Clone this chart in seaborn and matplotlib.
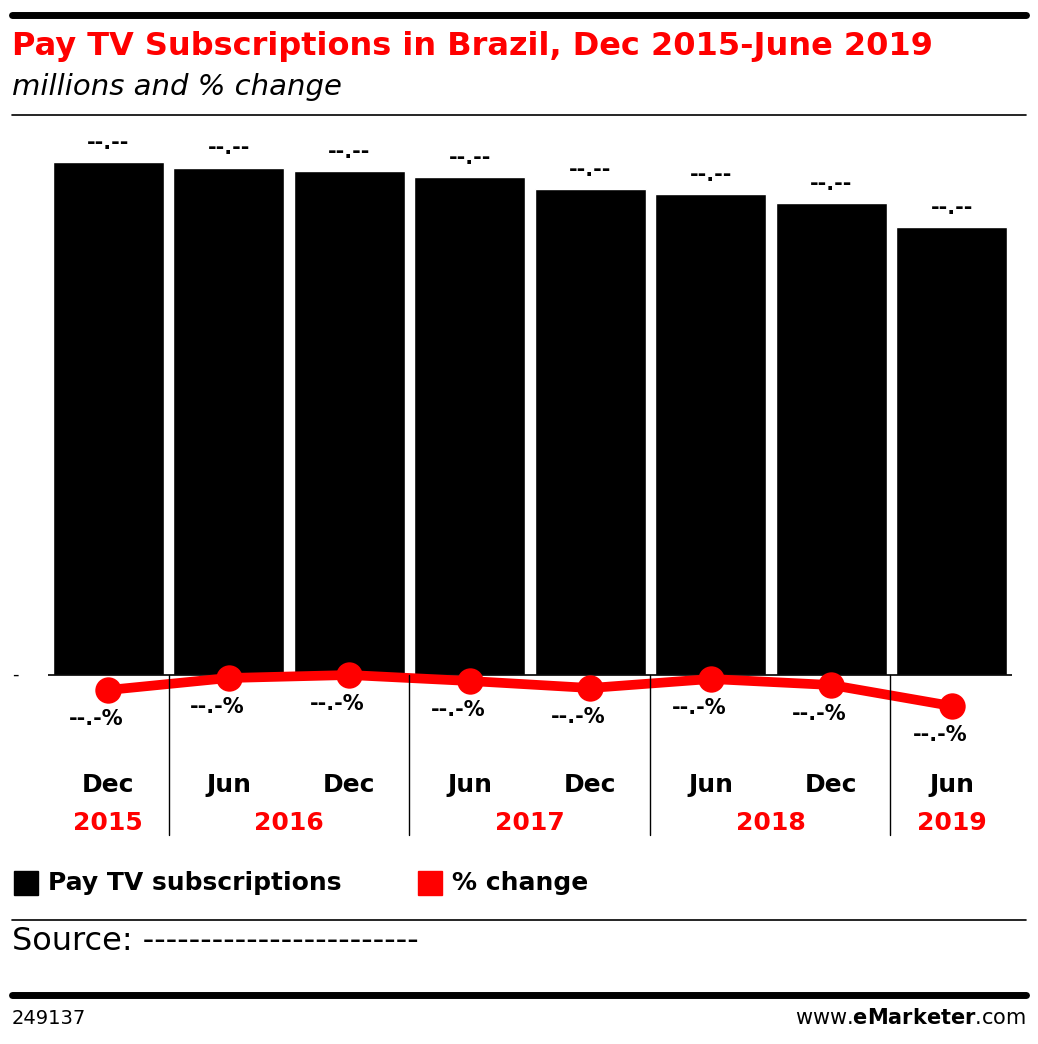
import matplotlib
matplotlib.use("Agg")
import matplotlib.pyplot as plt
import seaborn as sns
import pandas as pd
from matplotlib.lines import Line2D
from matplotlib.patches import Rectangle

periods = ["Dec 2015", "Jun 2016", "Dec 2016", "Jun 2017", "Dec 2017", "Jun 2018", "Dec 2018", "Jun 2019"]
months = ["Dec", "Jun", "Dec", "Jun", "Dec", "Jun", "Dec", "Jun"]
subscriptions = [19.10, 18.88, 18.76, 18.54, 18.09, 17.91, 17.57, 16.68]
pct_change = [-1.5, -0.3, 0.0, -0.6, -1.3, -0.4, -1.0, -3.1]
year_labels = ["2015", "2016", "2017", "2018", "2019"]
year_centers = [0, 1.5, 3.5, 5.5, 7]

sns.set_style("white")
plt.rcParams['font.family'] = ['DejaVu Sans']
plt.rcParams['text.color'] = 'black'
W, H = 1038, 1044
fig = plt.figure(figsize=(W/100, H/100), dpi=100)

def fx(x): return x / W
def fy(y): return 1 - y / H

ax_l, ax_r, ax_t, ax_b = 48, 1012, 130, 730
ax = fig.add_axes([fx(ax_l), fy(ax_b), fx(ax_r - ax_l), (ax_b - ax_t) / H])
df = pd.DataFrame({"period": periods, "subs": subscriptions, "pct": pct_change})
sns.barplot(data=df, x="period", y="subs", color="black", width=0.92, ax=ax, saturation=1)
pxu = 26.86
ax.set_ylim(-(ax_b - 675) / pxu, (675 - ax_t) / pxu)
ax.set_xlim(-0.5, 7.5)
ax.axhline(0, color="black", lw=1.2)
for i, v in enumerate(subscriptions):
    ax.text(i, v + 0.35, "--.--", ha="center", va="bottom", fontsize=15, fontweight="bold")
ax.axis("off")

ax2 = ax.twinx()
ppu = 10
ax2.set_ylim(-(ax_b - 675) / ppu, (675 - ax_t) / ppu)
sns.lineplot(x=list(range(8)), y=pct_change, ax=ax2, color="#ff0000", lw=7, marker="o",
             markersize=19, markeredgewidth=0)
ax2.set_xlim(-0.5, 7.5)
for i, v in enumerate(pct_change):
    ax2.text(i - 0.1, v - 1.9, "--.-%", ha="center", va="top", fontsize=15, fontweight="bold")
ax2.axis("off")

for i, m in enumerate(months):
    x = ax_l + (i + 0.5) * (ax_r - ax_l) / 8
    fig.text(fx(x), fy(785), m, ha="center", va="center", fontsize=18, fontweight="bold")
for c, y in zip(year_centers, year_labels):
    x = ax_l + (c + 0.5) * (ax_r - ax_l) / 8
    fig.text(fx(x), fy(823), y, ha="center", va="center", fontsize=18, fontweight="bold", color="#ff0000")
for sx in [169, 409, 650, 890]:
    fig.add_artist(Line2D([fx(sx), fx(sx)], [fy(675), fy(835)], color="black", lw=1))
fig.text(fx(12), fy(675), "-", ha="left", va="center", fontsize=13)

fig.add_artist(Line2D([fx(12), fx(1026)], [fy(15), fy(15)], color="black", lw=5))
fig.text(fx(12), fy(46), "Pay TV Subscriptions in Brazil, Dec 2015-June 2019", ha="left", va="center",
         fontsize=23, fontweight="bold", color="#ff0000")
fig.text(fx(12), fy(87), "millions and % change", ha="left", va="center", fontsize=21, style="italic")
fig.add_artist(Line2D([fx(12), fx(1026)], [fy(115), fy(115)], color="black", lw=1.2))

fig.add_artist(Rectangle((fx(14), fy(895)), fx(24), 24 / H, color="black"))
fig.text(fx(48), fy(883), "Pay TV subscriptions", ha="left", va="center", fontsize=18, fontweight="bold")
fig.add_artist(Rectangle((fx(418), fy(895)), fx(24), 24 / H, color="#ff0000"))
fig.text(fx(452), fy(883), "% change", ha="left", va="center", fontsize=18, fontweight="bold")

fig.add_artist(Line2D([fx(12), fx(1026)], [fy(920), fy(920)], color="black", lw=1.2))
fig.text(fx(12), fy(942), "Source: ------------------------", ha="left", va="center", fontsize=23)
fig.add_artist(Line2D([fx(12), fx(1026)], [fy(995), fy(995)], color="black", lw=5))
fig.text(fx(12), fy(1018), "249137", ha="left", va="center", fontsize=14)
fig.text(fx(1026), fy(1018), "www.$\\bf{eMarketer}$.com", ha="right", va="center", fontsize=15)

fig.savefig("out.png", dpi=100)
